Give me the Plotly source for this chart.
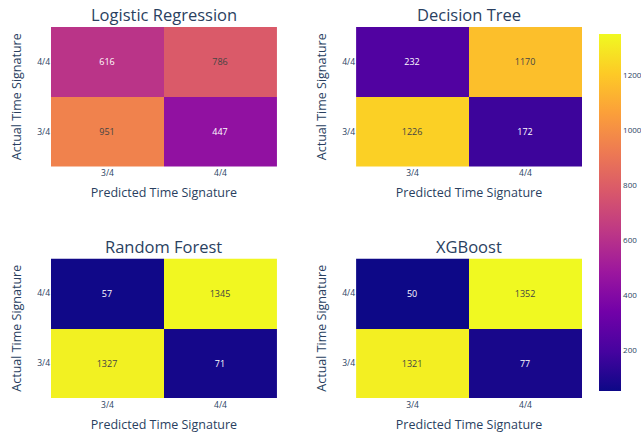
import plotly.graph_objects as go
from plotly.subplots import make_subplots

model_names = ["Logistic Regression", "Decision Tree", "Random Forest", "XGBoost"]
labels = ["3/4", "4/4"]

# rows: actual 3/4, actual 4/4 ; columns: predicted 3/4, predicted 4/4
cm_logreg = [[951, 447], [616, 786]]
cm_tree = [[1226, 172], [232, 1170]]
cm_forest = [[1327, 71], [57, 1345]]
cm_xgb = [[1321, 77], [50, 1352]]

matrices = [cm_logreg, cm_tree, cm_forest, cm_xgb]
all_vals = [v for m in matrices for row in m for v in row]

fig = make_subplots(rows=2, cols=2, subplot_titles=model_names,
                    horizontal_spacing=0.149, vertical_spacing=0.248)

for i, m in enumerate(matrices):
    r, c = i // 2 + 1, i % 2 + 1
    fig.add_trace(go.Heatmap(z=m, x=labels, y=labels, coloraxis="coloraxis",
                             texttemplate="%{z}", textfont=dict(size=9)),
                  row=r, col=c)
    fig.update_xaxes(title_text="Predicted Time Signature", row=r, col=c,
                     title_font=dict(size=12.5), tickfont=dict(size=8.5),
                     title_standoff=11, showgrid=False, zeroline=False)
    fig.update_yaxes(title_text="Actual Time Signature", row=r, col=c,
                     title_font=dict(size=12.5), tickfont=dict(size=8.5),
                     title_standoff=12, showgrid=False, zeroline=False)

for a in fig.layout.annotations:
    a.font = dict(size=16.5, color="#2a3f5f")
    a.yshift = -1

fig.update_layout(
    width=641, height=433,
    margin=dict(l=51, r=59, t=27, b=35, autoexpand=False),
    paper_bgcolor="white", plot_bgcolor="white",
    font=dict(family="Open Sans, verdana, arial, sans-serif"),
    coloraxis=dict(colorscale="Plasma", cmin=min(all_vals), cmax=max(all_vals),
                   colorbar=dict(thickness=22, x=1.013, xpad=10, len=0.962, ypad=0,
                                 tickfont=dict(size=8), outlinewidth=0)),
)

fig.write_html("out.html", config={"displayModeBar": False},
               post_script="document.body.style.margin='0';document.body.style.overflow='hidden';")
